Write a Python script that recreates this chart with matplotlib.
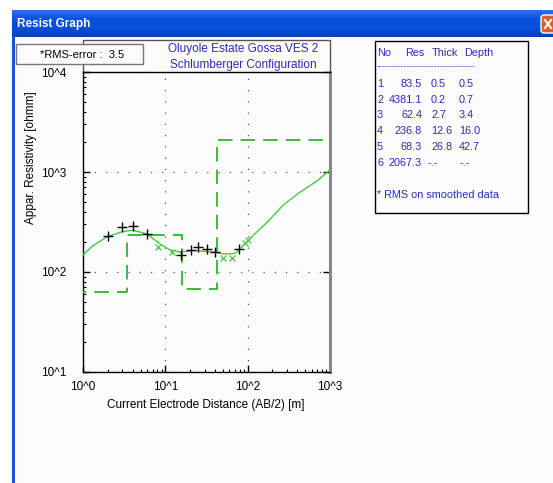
import numpy as np
import matplotlib
matplotlib.use("Agg")
import matplotlib.pyplot as plt
from matplotlib.patches import Rectangle, FancyBboxPatch
from matplotlib.colors import LinearSegmentedColormap
from matplotlib.ticker import FixedLocator, FuncFormatter, LogLocator, NullFormatter

FONT = ['Liberation Sans Narrow', 'Liberation Sans', 'DejaVu Sans']
plt.rcParams['font.family'] = FONT

# ---------------- data ----------------
layer_no = [1, 2, 3, 4, 5, 6]
layer_res = [83.5, 4381.1, 62.4, 236.8, 68.3, 2067.3]
layer_thick = [0.5, 0.2, 2.7, 12.6, 26.8]
layer_depth = [0.5, 0.7, 3.4, 16.0, 42.7]

field_ab2 = [2.0, 3.0, 4.0, 6.0, 15.4, 20.3, 24.9, 31.8, 40.2, 79.4]
field_rho = [227, 285, 290, 240, 148, 166, 176, 170, 160, 168]

smooth_ab2 = [8.1, 12.2, 49.8, 65.3, 93.0, 100.0]
smooth_rho = [177, 160, 138, 138, 195, 209]

curve_ab2 = [1, 1.33, 2, 3, 4, 6, 8.6, 11.4, 15.4, 22, 40, 50, 66, 74, 100, 171, 272, 433, 692, 1000]
curve_rho = [148, 184, 227, 253, 262, 240, 191, 166, 158, 164, 158, 152, 152, 158, 206, 312, 470, 630, 810, 1050]

rms_error = 3.5
title_lines = ["Oluyole Estate Gossa VES 2", "Schlumberger Configuration"]

W, H = 553, 483
fig = plt.figure(figsize=(W / 100, H / 100), dpi=100)
fig.patch.set_facecolor('white')

# background "window" axes in pixel coordinates
bg = fig.add_axes([0, 0, 1, 1])
bg.set_xlim(0, W)
bg.set_ylim(H, 0)
bg.axis('off')

# window content
bg.add_patch(Rectangle((12, 37), W - 12, H - 37, facecolor='#fcfcfc', edgecolor='none'))
# title bar gradient
grad = np.linspace(0, 1, 50).reshape(-1, 1)
cmap = LinearSegmentedColormap.from_list('xp', ['#2a74ee', '#0852dc', '#0650d8', '#053fbf'])
bg.imshow(grad, extent=[12, W, 37, 10], aspect='auto', cmap=cmap, zorder=1)
bg.text(17, 24, "Resist Graph", color='white', fontsize=8.5, fontweight='bold',
        va='center', ha='left', family=['Liberation Sans', 'DejaVu Sans'], zorder=2)
# close button
bg.add_patch(FancyBboxPatch((541, 15), 16, 18, boxstyle='round,pad=0,rounding_size=3',
                            facecolor='#e0592c', edgecolor='white', lw=1, zorder=2))
bg.plot([545, 551], [20, 28], color='white', lw=1.5, zorder=3)
bg.plot([545, 551], [28, 20], color='white', lw=1.5, zorder=3)
# left window border
bg.add_patch(Rectangle((12, 37), 2.5, H - 37, facecolor='#1a4fe0', edgecolor='none', zorder=2))

# RMS box
bg.add_patch(Rectangle((16, 44), 127, 20, facecolor='#fcfcfc', edgecolor='#777777', lw=1, zorder=5))
bg.text(40, 55, f"*RMS-error :  {rms_error}", fontsize=8, color='black', va='center', ha='left', zorder=6)

# chart frame above axes (title area)
bg.plot([83, 83, 330, 330], [72, 40, 40, 72], color='#555555', lw=1)
for i, t in enumerate(title_lines):
    bg.text(243, 49 + 16 * i, t, fontsize=8.5, color='#2b2bb8', ha='center', va='center')

# right info panel
bg.add_patch(Rectangle((375, 41), 153, 172, facecolor='#fcfcfc', edgecolor='black', lw=1))
blue = '#2b2bb8'
fs = 7.8
bg.text(377, 53, "No", fontsize=fs, color=blue, va='center', ha='left')
bg.text(405, 53, "Res", fontsize=fs, color=blue, va='center', ha='left')
bg.text(432, 53, "Thick", fontsize=fs, color=blue, va='center', ha='left')
bg.text(464, 53, "Depth", fontsize=fs, color=blue, va='center', ha='left')
bg.text(377, 67, "-" * 36, fontsize=6, color=blue, va='center', ha='left')
for i, n in enumerate(layer_no):
    y = 84 + 15.7 * i
    bg.text(377, y, str(n), fontsize=fs, color=blue, va='center', ha='left')
    bg.text(422, y, f"{layer_res[i]:.1f}", fontsize=fs, color=blue, va='center', ha='right')
    th = f"{layer_thick[i]:.1f}" if i < len(layer_thick) else "-.-"
    dp = f"{layer_depth[i]:.1f}" if i < len(layer_depth) else "-.-"
    bg.text(431 if i < len(layer_thick) else 428, y, th, fontsize=fs, color=blue, va='center', ha='left')
    bg.text(459 if i < len(layer_depth) else 460, y, dp, fontsize=fs, color=blue, va='center', ha='left')
bg.text(377, 195, "* RMS on smoothed data", fontsize=fs, color=blue, va='center', ha='left')

# axis labels
bg.text(206, 405, "Current Electrode Distance (AB/2) [m]", fontsize=8.5, color='black',
        ha='center', va='center')
bg.text(31, 158, "Appar. Resistivity [ohmm]", fontsize=8.5, color='black',
        ha='center', va='center', rotation=90)

# ---------------- main plot ----------------
ax = fig.add_axes([83 / W, (H - 372) / H, (330 - 83) / W, (372 - 72) / H])
ax.set_facecolor('#fcfcfc')
ax.set_xscale('log')
ax.set_yscale('log')
ax.set_xlim(1, 1000)
ax.set_ylim(10, 10000)

fmt = FuncFormatter(lambda v, p: f"10^{int(round(np.log10(v)))}")
ax.xaxis.set_major_locator(FixedLocator([1, 10, 100, 1000]))
ax.yaxis.set_major_locator(FixedLocator([10, 100, 1000, 10000]))
ax.xaxis.set_major_formatter(fmt)
ax.yaxis.set_major_formatter(fmt)
ax.xaxis.set_minor_locator(LogLocator(base=10, subs=np.arange(2, 10)))
ax.yaxis.set_minor_locator(LogLocator(base=10, subs=np.arange(2, 10)))
ax.xaxis.set_minor_formatter(NullFormatter())
ax.yaxis.set_minor_formatter(NullFormatter())
ax.tick_params(which='both', direction='in', labelsize=8.5, colors='black')
ax.tick_params(axis='y', which='major', length=5, width=1, pad=12, right=True)
ax.tick_params(axis='y', which='minor', length=2.5, width=0.8)
ax.tick_params(axis='x', which='major', length=5, width=1, pad=6.5)
ax.tick_params(axis='x', which='minor', length=2.5, width=0.8)

ax.grid(which='major', linestyle=(0, (1, 8)), color='#555555', lw=0.9)
for s in ['top', 'left', 'bottom']:
    ax.spines[s].set_color('black')
    ax.spines[s].set_linewidth(1)
ax.spines['right'].set_color('#888888')
ax.spines['right'].set_linewidth(2.2)

# layer model (step, dashed)
edges = [0.01] + layer_depth + [1e5]
mx = np.repeat(edges, 2)[1:-1]
my = np.repeat(layer_res, 2)
ax.plot(mx, my, color='#2db52d', lw=1.3, linestyle=(0, (8, 4.5)), zorder=3)

# smoothed model curve
ax.plot(curve_ab2, curve_rho, color='#47c847', lw=1.0, zorder=4)

# data
ax.plot(smooth_ab2, smooth_rho, linestyle='none', marker='x', color='#5ccc5c', ms=4.5, mew=1, zorder=5)
ax.plot(field_ab2, field_rho, linestyle='none', marker='+', color='black', ms=7, mew=1, zorder=6)

fig.savefig('out.png', dpi=100, facecolor=fig.get_facecolor())
